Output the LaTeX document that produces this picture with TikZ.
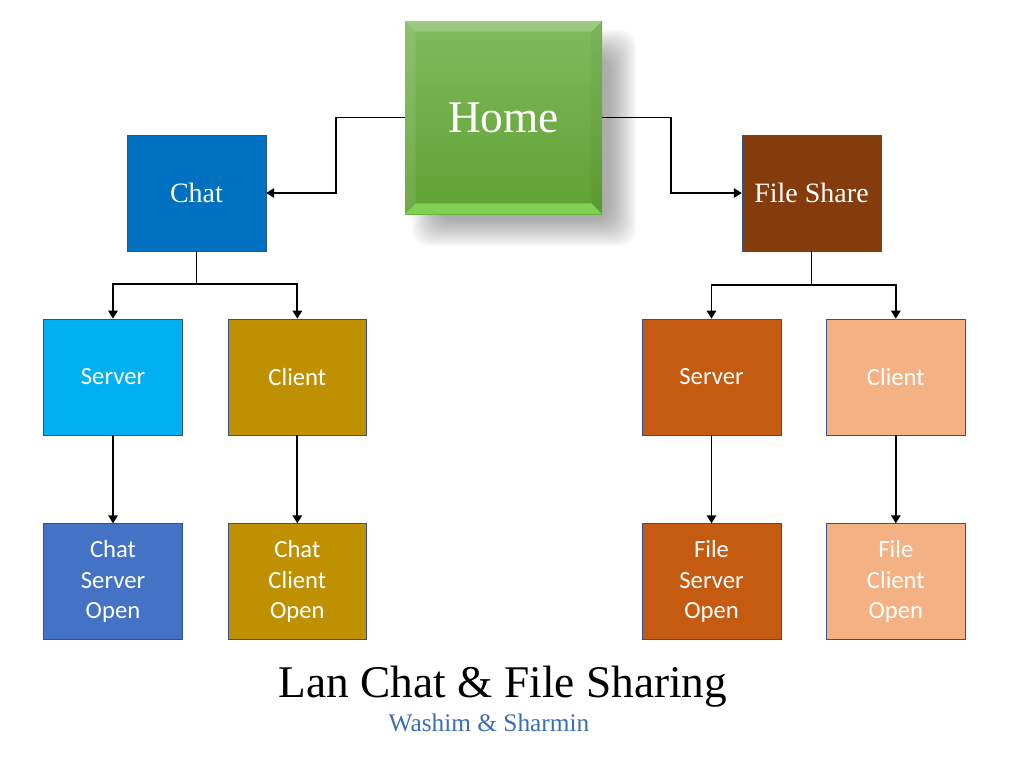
\documentclass[tikz,border=0pt]{standalone}
\usepackage{fontspec}
\setmainfont{Liberation Serif}
\setsansfont{Carlito}
\usetikzlibrary{positioning}
\usetikzlibrary{arrows.meta}
\definecolor{boxline}{HTML}{2F528F}
\definecolor{chatblue}{HTML}{0070C0}
\definecolor{sharebrown}{HTML}{843C0C}
\definecolor{serverblue}{HTML}{00B0F0}
\definecolor{openblue}{HTML}{4472C4}
\definecolor{gold}{HTML}{BF9000}
\definecolor{rust}{HTML}{C55A11}
\definecolor{peach}{HTML}{F4B183}
\definecolor{hometop}{HTML}{80BB5E}
\definecolor{homebot}{HTML}{5FA032}
\definecolor{homeedge}{HTML}{8CE25C}
\definecolor{subblue}{HTML}{3A6FB0}
\tikzset{chart node/.style={draw=boxline,line width=0.5pt,minimum width=104pt,minimum height=87pt,inner sep=0pt,text=white,align=center},
serif label/.style={font=\fontsize{21}{25}\selectfont},
sans label/.style={font=\sffamily\fontsize{18.5}{23}\selectfont},
link/.style={line width=1.4pt,-{Triangle[length=6pt,width=7pt]}},}

\begin{document}
\begin{tikzpicture}[x=0.75pt,y=-0.75pt]
          \useasboundingbox (0,0) rectangle (1012,761);
          % soft shadow behind the home box
          \foreach \d in {0,2,...,26}
            \fill[black,opacity=0.028,rounded corners=12pt] ({412+\d},{30+\d}) rectangle ({636-\d},{246-\d});

          \node[minimum width=147.75pt,minimum height=144.75pt,inner sep=0pt,top color=hometop,bottom color=homebot,text=white,font=\fontsize{34}{40}\selectfont] (home) at (503.5,117.5) {Home};
          \fill[white,opacity=0.22] (home.north west) -- (home.north east) -- ([shift={(-11,11)}]home.north east) -- ([shift={(11,11)}]home.north west) -- cycle;
          \fill[white,opacity=0.1] (home.north west) -- ([shift={(11,11)}]home.north west) -- ([shift={(11,-11)}]home.south west) -- (home.south west) -- cycle;
          \fill[homeedge,opacity=0.75] (home.south west) -- ([shift={(11,-11)}]home.south west) -- ([shift={(-11,-11)}]home.south east) -- (home.south east) -- cycle;
          \fill[black,opacity=0.04] (home.north east) -- (home.south east) -- ([shift={(-11,-11)}]home.south east) -- ([shift={(-11,11)}]home.north east) -- cycle;

          \node[chart node,serif label,fill=chatblue] (chat) at (196.5,193) {Chat};
          \node[chart node,serif label,fill=sharebrown] (share) at (811.5,193) {File Share};

          \node[chart node,sans label,fill=serverblue] (cserver) at (113,377) {Server};
          \node[chart node,sans label,fill=gold] (cclient) [right = 33.75pt of cserver] {Client};
          \node[chart node,sans label,fill=openblue] (cserveropen) [below = 66pt of cserver] {Chat\\Server\\Open};
          \node[chart node,sans label,fill=gold] (cclientopen) [below = 66pt of cclient] {Chat\\Client\\Open};

          \node[chart node,sans label,fill=rust] (fserver) at (711.5,377) {Server};
          \node[chart node,sans label,fill=peach] (fclient) [right = 33.75pt of fserver] {Client};
          \node[chart node,sans label,fill=rust] (fserveropen) [below = 66pt of fserver] {File\\Server\\Open};
          \node[chart node,sans label,fill=peach] (fclientopen) [below = 66pt of fclient] {File\\Client\\Open};

          \draw[link] (home.west) -- ++(-69,0) |- (chat.east);
          \draw[link] (home.east) -- ++(69,0) |- (share.west);
          \draw[link] (chat.south) -- ++(0,33) -| (cserver.north);
          \draw[link] (chat.south) -- ++(0,33) -| (cclient.north);
          \draw[link] (share.south) -- ++(0,34) -| (fserver.north);
          \draw[link] (share.south) -- ++(0,34) -| (fclient.north);

          \path[link]
          (cserver) edge (cserveropen)
          (cclient) edge (cclientopen)
          (fserver) edge (fserveropen)
          (fclient) edge (fclientopen);

          \node[anchor=base,font=\fontsize{34}{40}\selectfont] (title) at (503,697) {Lan Chat \& File Sharing};
          \node[anchor=base,text=subblue,font=\fontsize{19}{23}\selectfont] (authors) at (489,731) {Washim \& Sharmin};
        \end{tikzpicture}
\end{document}
